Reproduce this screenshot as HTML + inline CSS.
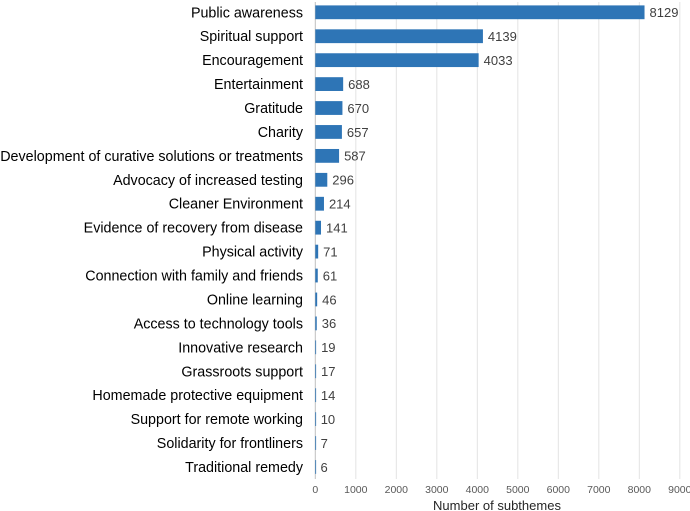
<!DOCTYPE html>
<html><head><meta charset="utf-8"><style>
body{margin:0;background:#fff}
svg{display:block;font-family:"Liberation Sans",Arial,sans-serif}
</style></head><body>
<svg id="chart" width="690" height="511"></svg>
<script>
const categories=["Public awareness","Spiritual support","Encouragement","Entertainment","Gratitude","Charity","Development of curative solutions or treatments","Advocacy of increased testing","Cleaner Environment","Evidence of recovery from disease","Physical activity","Connection with family and friends","Online learning","Access to technology tools","Innovative research","Grassroots support","Homemade protective equipment","Support for remote working","Solidarity for frontliners","Traditional remedy"];
const values=[8129,4139,4033,688,670,657,587,296,214,141,71,61,46,36,19,17,14,10,7,6];
const ticks=[0,1000,2000,3000,4000,5000,6000,7000,8000,9000];
const NS="http://www.w3.org/2000/svg";
const svg=document.getElementById('chart');
const x0=315.3,x1=679.8,xmax=9000;
const xs=v=>x0+(x1-x0)*v/xmax;
const top0=12.3,pitch=23.93,bh=13.8;
const ys=i=>top0+i*pitch;
function mk(t,a){const e=document.createElementNS(NS,t);for(const k in a)e.setAttribute(k,a[k]);svg.appendChild(e);return e;}
ticks.forEach(t=>{
 const g=mk('line',{x1:xs(t),x2:xs(t),y1:2,y2:479,stroke:t===0?'#bfbfbf':'#e3e3e3','stroke-width':1});
 
 
 const l=mk('text',{x:xs(t),y:493,'font-size':10.5,fill:'#595959','text-anchor':'middle'});
 l.textContent=t;
 
 
});
categories.forEach((c,i)=>{
 const y=ys(i);
 const lab=mk('text',{x:303,y:y+5,'font-size':14.3,fill:'#000','text-anchor':'end'});
 lab.textContent=c;
 
 
 const r=mk('rect',{x:x0,y:y-bh/2,width:Math.max(xs(values[i])-x0,0.8),height:bh,fill:'#2e75b6'});
 
 
 const v=mk('text',{x:xs(values[i])+5,y:y+4.8,'font-size':13,fill:'#404040'});
 v.textContent=values[i];
 
 
});
const t=mk('text',{x:497,y:510,'font-size':13,fill:'#262626','text-anchor':'middle'});
t.textContent='Number of subthemes';


</script>
</body></html>
